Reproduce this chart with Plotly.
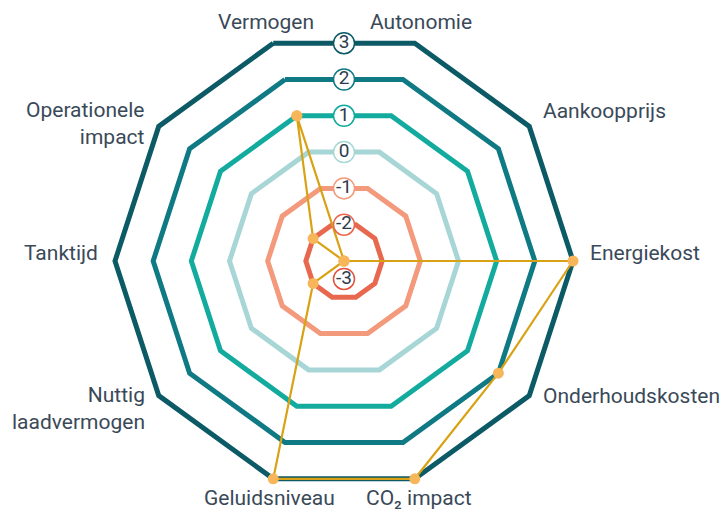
import math
import plotly.graph_objects as go

# ---------------- data ----------------
categories = ["Vermogen", "Autonomie", "Aankoopprijs", "Energiekost", "Onderhoudskosten",
              "CO₂ impact", "Geluidsniveau", "Nuttig laadvermogen", "Tanktijd", "Operationele impact"]
category_labels = ["Vermogen", "Autonomie", "Aankoopprijs", "Energiekost", "Onderhoudskosten",
                   "CO₂ impact", "Geluidsniveau", "Nuttig<br>laadvermogen", "Tanktijd",
                   "Operationele<br>impact"]
scores = [1, -3, -3, 3, 2, 3, 3, -2, -3, -2]
ring_levels = [3, 2, 1, 0, -1, -2]
tick_levels = [3, 2, 1, 0, -1, -2, -3]
tick_labels = ["3", "2", "1", "0", "-1", "-2", "-3"]

# ---------------- styles ----------------
level_colors = {3: "#0b5a66", 2: "#0f7a84", 1: "#14ab9f", 0: "#a8d6d6",
                -1: "#f29a7b", -2: "#e8684f", -3: "#e0533c"}
LINE_GOLD = "#d9a214"
MARKER_GOLD = "#f8b65b"
TEXT_COLOR = "#3a4958"
NUM_COLOR = "#2e3d4d"
FONT = "Roboto"

W, H = 721, 509
CX, CY = 344, 261          # centre of the radar in pixels
R3 = 229                   # pixel radius of the outer (level 3) ring vertices
RMIN, RTOP, RMAX = -3, 3, 3.2
R_FULL = R3 * (RMAX - RMIN) / (RTOP - RMIN)
dom_x = [(CX - R_FULL) / W, (CX + R_FULL) / W]
dom_y = [1 - (CY + R_FULL) / H, 1 - (CY - R_FULL) / H]
N = len(categories)
START_ANGLE = 108  # first category position (deg, counter-clockwise from east)

fig = go.Figure()

closed = categories + [categories[0]]
for lvl in ring_levels:
    fig.add_trace(go.Scatterpolar(
        theta=closed, r=[lvl] * (N + 1), mode="lines",
        line=dict(color=level_colors[lvl], width=5), hoverinfo="skip",
        subplot="polar"))

fig.add_trace(go.Scatterpolar(
    theta=closed, r=scores + [scores[0]], mode="lines+markers",
    line=dict(color=LINE_GOLD, width=2.2),
    marker=dict(size=11, color=MARKER_GOLD),
    subplot="polar"))

# level labels in circles (on an overlaid numeric polar)
cos18 = math.cos(math.radians(180 / N))
lab_r, lab_t = [], []
for lvl in tick_levels:
    if lvl == RMIN:
        lab_r.append(RMIN + 0.47)
        lab_t.append(270)
    else:
        lab_r.append(RMIN + (lvl - RMIN) * cos18)
        lab_t.append(90)
fig.add_trace(go.Scatterpolar(
    theta=lab_t, r=lab_r, mode="markers+text", text=tick_labels,
    textposition="middle center",
    textfont=dict(family=FONT, size=19, color=NUM_COLOR),
    marker=dict(size=21, color="white",
                line=dict(color=[level_colors[l] for l in tick_levels], width=1.5)),
    hoverinfo="skip", subplot="polar2"))

hidden_radial = dict(range=[RMIN, RMAX], visible=False, showgrid=False, showline=False,
                     showticklabels=False, ticks="")
fig.update_layout(
    width=W, height=H, margin=dict(l=0, r=0, t=0, b=0),
    paper_bgcolor="white", plot_bgcolor="white", showlegend=False,
    font=dict(family=FONT, color=TEXT_COLOR),
    polar=dict(domain=dict(x=dom_x, y=dom_y), bgcolor="rgba(0,0,0,0)",
               radialaxis=hidden_radial,
               angularaxis=dict(categoryorder="array", categoryarray=categories,
                                rotation=START_ANGLE, direction="clockwise",
                                showgrid=False, showline=False, showticklabels=False,
                                ticks="")),
    polar2=dict(domain=dict(x=dom_x, y=dom_y), bgcolor="rgba(0,0,0,0)",
                radialaxis=hidden_radial,
                angularaxis=dict(rotation=0, direction="counterclockwise",
                                 showgrid=False, showline=False, showticklabels=False,
                                 ticks="")),
)

# category labels, anchored at the outer ring vertices
label_place = [("center", -7, 21), ("center", 6, 21), ("left", 12, 15), ("left", 15, 8),
               ("left", 12, 0), ("center", 4, -19), ("center", -4, -19),
               ("right", -12, -13), ("right", -15, 8), ("right", -12, 3)]
for i, (lab, (xa, dx, dy)) in enumerate(zip(category_labels, label_place)):
    a = math.radians(START_ANGLE - 360 / N * i)
    vx = CX + R3 * math.cos(a)
    vy = CY - R3 * math.sin(a)
    fig.add_annotation(x=vx / W, y=1 - vy / H, xref="paper", yref="paper",
                       text=lab, showarrow=False, xanchor=xa, yanchor="middle",
                       align="right" if xa == "right" else ("left" if xa == "left" else "center"),
                       xshift=dx, yshift=dy,
                       font=dict(family=FONT, size=21, color=TEXT_COLOR))

fig.write_html("out.html", config={"displayModeBar": False},
               post_script="document.body.style.margin='0';document.body.style.overflow='hidden';")
